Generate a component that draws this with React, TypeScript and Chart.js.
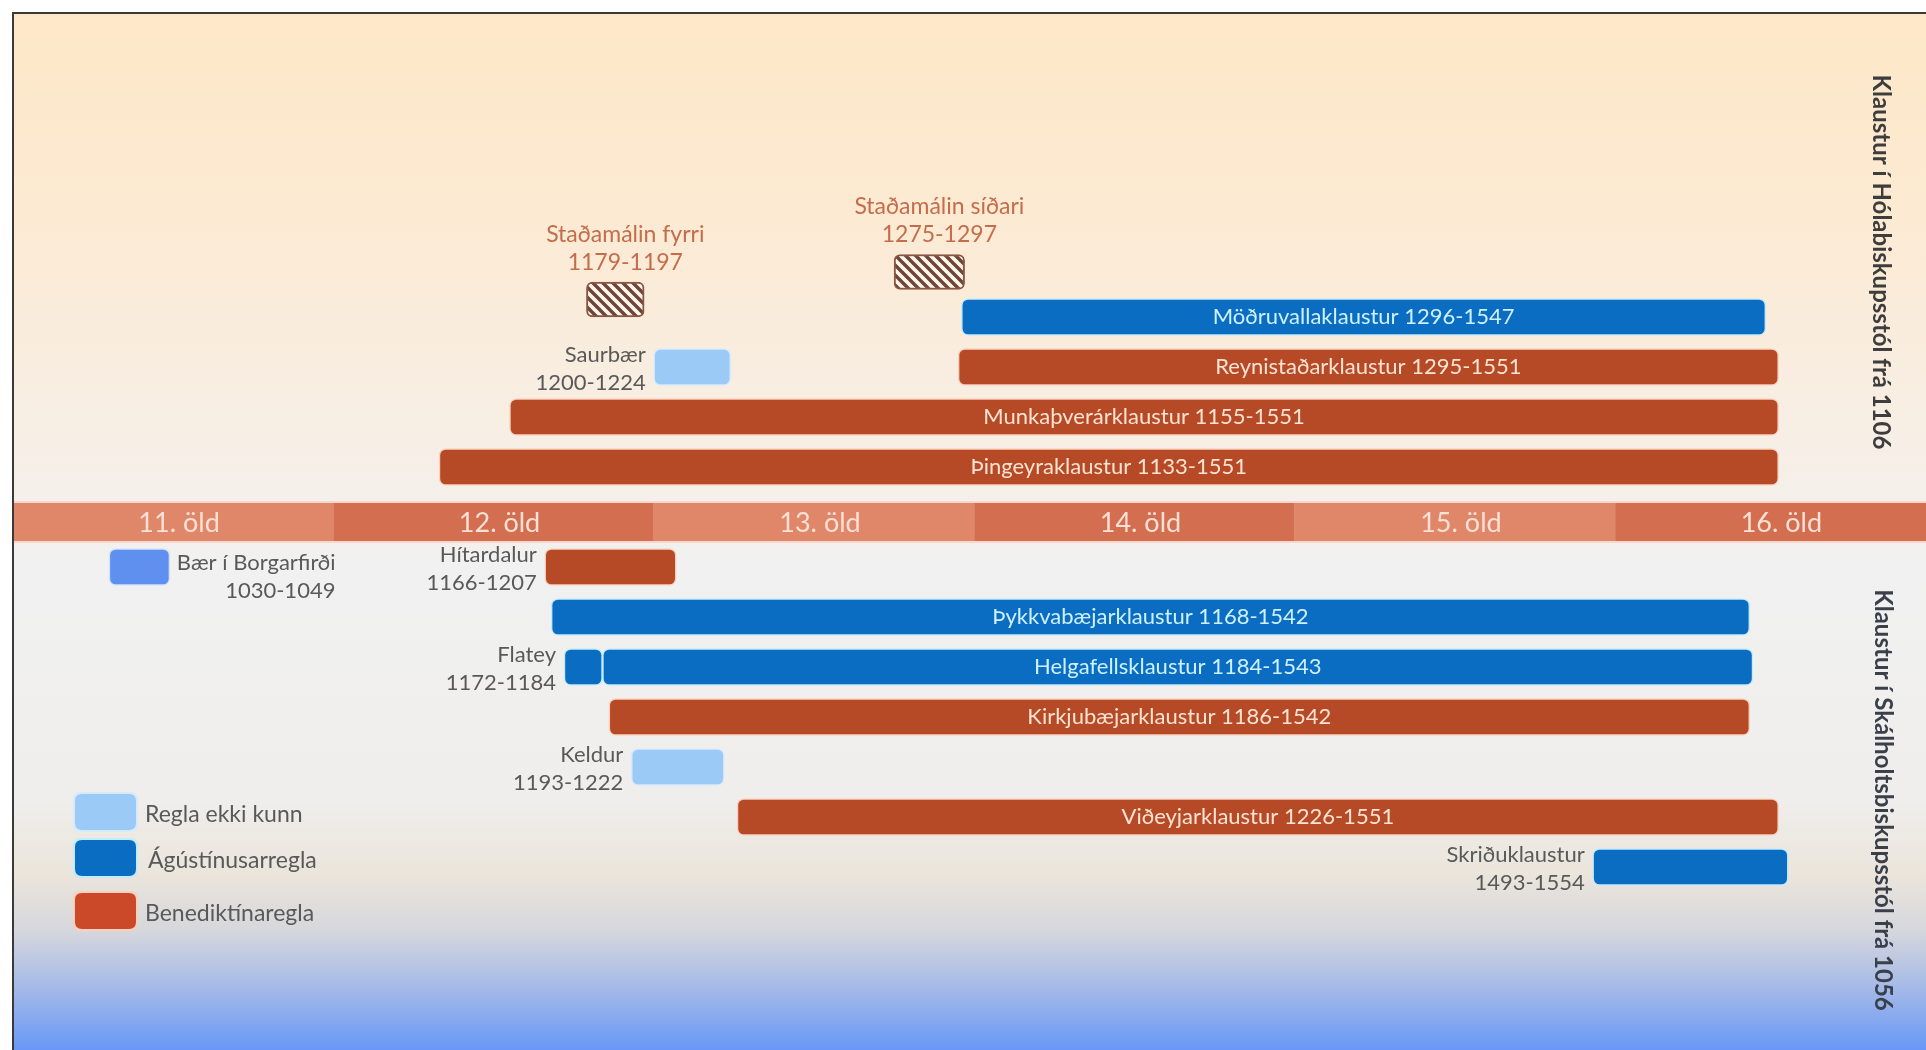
import React, { useEffect, useRef } from "react";
import { Chart, registerables } from "chart.js";

Chart.register(...registerables);

// ---------- data ----------
const centuries = ["11. öld", "12. öld", "13. öld", "14. öld", "15. öld", "16. öld"];
const centuryStarts = [1000, 1100, 1200, 1300, 1400, 1500];

const monasteries = [
  "Þingeyraklaustur",
  "Munkaþverárklaustur",
  "Reynistaðarklaustur",
  "Möðruvallaklaustur",
  "Saurbær",
  "Bær í Borgarfirði",
  "Hítardalur",
  "Þykkvabæjarklaustur",
  "Flatey",
  "Helgafellsklaustur",
  "Kirkjubæjarklaustur",
  "Keldur",
  "Viðeyjarklaustur",
  "Skriðuklaustur",
];
const startYears = [1133, 1155, 1295, 1296, 1200, 1030, 1166, 1168, 1172, 1184, 1186, 1193, 1226, 1493];
const endYears = [1551, 1551, 1551, 1547, 1224, 1049, 1207, 1542, 1184, 1543, 1542, 1222, 1551, 1554];
// row: positive = Hólar diocese (above the century band), negative = Skálholt diocese (below)
const rows = [1, 2, 3, 4, 3, -1, -1, -2, -3, -3, -4, -5, -6, -7];
// U = rule unknown, A = Augustinian, B = Benedictine, X = early (Bær)
const orders = ["B", "B", "B", "A", "U", "X", "B", "A", "A", "A", "B", "U", "B", "A"];

const conflicts = ["Staðamálin fyrri", "Staðamálin síðari"];
const conflictStarts = [1179, 1275];
const conflictEnds = [1197, 1297];
const conflictRows = [4.35, 4.9];

const legendOrders = ["U", "A", "B"];
const legendLabels = ["Regla ekki kunn", "Ágústínusarregla", "Benediktínaregla"];

const sideLabels = ["Klaustur í Hólabiskupsstól frá 1106", "Klaustur í Skálholtsbiskupsstól frá 1056"];

// ---------- styles ----------
const W = 1926;
const H = 1050;
const FONT = "Lato, 'Open Sans', sans-serif";
const ORDER_COLORS: Record<string, string> = { U: "#9ccaf7", A: "#0b6dc2", B: "#b64a27", X: "#5f8fef" };
const ORDER_GLOW: Record<string, string> = { U: "#d6eafc", A: "#c2ebfb", B: "#f8d0bd", X: "#d3e1fb" };
const ORDER_TEXT: Record<string, string> = { U: "#ffffff", A: "#cdf1ff", B: "#fde3d2", X: "#ffffff" };
const LABEL_GRAY = "#595959";
const CONFLICT_TEXT = "#c56c4a";

function makeHatch(): CanvasPattern | string {
  const s = 10;
  const c = document.createElement("canvas");
  c.width = s;
  c.height = s;
  const g = c.getContext("2d");
  if (!g) return "#fff";
  g.fillStyle = "#fff6ef";
  g.fillRect(0, 0, s, s);
  g.strokeStyle = "#6f4535";
  g.lineWidth = 3.4;
  g.beginPath();
  g.moveTo(-2, -2);
  g.lineTo(s + 2, s + 2);
  g.moveTo(-2, s - 2);
  g.lineTo(2, s + 2);
  g.moveTo(s - 2, -2);
  g.lineTo(s + 2, 2);
  g.stroke();
  const p = g.createPattern(c, "repeat");
  return p || "#fff";
}

function roundRect(ctx: CanvasRenderingContext2D, x: number, y: number, w: number, h: number, r: number) {
  ctx.beginPath();
  ctx.moveTo(x + r, y);
  ctx.lineTo(x + w - r, y);
  ctx.quadraticCurveTo(x + w, y, x + w, y + r);
  ctx.lineTo(x + w, y + h - r);
  ctx.quadraticCurveTo(x + w, y + h, x + w - r, y + h);
  ctx.lineTo(x + r, y + h);
  ctx.quadraticCurveTo(x, y + h, x, y + h - r);
  ctx.lineTo(x, y + r);
  ctx.quadraticCurveTo(x, y, x + r, y);
  ctx.closePath();
}

const timelinePlugin = {
  id: "timeline",
  beforeDraw(chart: any) {
    const ctx: CanvasRenderingContext2D = chart.ctx;
    ctx.save();
    ctx.fillStyle = "#ffffff";
    ctx.fillRect(0, 0, W, H);
    const g = ctx.createLinearGradient(0, 12, 0, H);
    g.addColorStop(0, "#fde7c7");
    g.addColorStop(0.2, "#fcead3");
    g.addColorStop(0.44, "#f6efe8");
    g.addColorStop(0.53, "#f1f1f1");
    g.addColorStop(0.76, "#efeeec");
    g.addColorStop(0.83, "#ebe5db");
    g.addColorStop(0.885, "#d6d7dd");
    g.addColorStop(0.93, "#aebfe5");
    g.addColorStop(1, "#6998f6");
    ctx.fillStyle = g;
    ctx.fillRect(12, 12, W - 12, H - 12);
    ctx.strokeStyle = "#3a3a3a";
    ctx.lineWidth = 2;
    ctx.beginPath();
    ctx.moveTo(13, H);
    ctx.lineTo(13, 13);
    ctx.lineTo(W, 13);
    ctx.stroke();
    ctx.restore();
  },
  beforeDatasetsDraw(chart: any) {
    const ctx: CanvasRenderingContext2D = chart.ctx;
    const xs = chart.scales.x;
    const ys = chart.scales.y;
    const cy = ys.getPixelForValue(-0.1);
    const half = 19;
    ctx.save();
    ctx.fillStyle = "#f9d7ca";
    ctx.fillRect(14, cy - half - 2, W, half * 2 + 4);
    centuryStarts.forEach((c, i) => {
      const x1 = Math.max(14, xs.getPixelForValue(c));
      const x2 = xs.getPixelForValue(c + 100);
      ctx.fillStyle = i % 2 === 0 ? "#e0876a" : "#d36f50";
      ctx.fillRect(x1, cy - half, x2 - x1, half * 2);
    });
    ctx.fillStyle = "#fbe1d5";
    ctx.font = `27px ${FONT}`;
    ctx.textAlign = "center";
    ctx.textBaseline = "middle";
    centuryStarts.forEach((c, i) => {
      const x = (xs.getPixelForValue(c) + xs.getPixelForValue(c + 100)) / 2;
      ctx.fillText(centuries[i], x + 6, cy + 1);
    });
    ctx.restore();
  },
  afterDatasetsDraw(chart: any) {
    const ctx: CanvasRenderingContext2D = chart.ctx;
    const xs = chart.scales.x;
    const ys = chart.scales.y;
    ctx.save();
    ctx.textBaseline = "middle";
    // monastery labels
    monasteries.forEach((name, i) => {
      const x1 = xs.getPixelForValue(startYears[i]);
      const x2 = xs.getPixelForValue(endYears[i]);
      const y = ys.getPixelForValue(rows[i]);
      const years = `${startYears[i]}-${endYears[i]}`;
      if (x2 - x1 > 300) {
        ctx.font = `22px ${FONT}`;
        ctx.fillStyle = ORDER_TEXT[orders[i]];
        ctx.textAlign = "center";
        ctx.fillText(`${name} ${years}`, (x1 + x2) / 2, y);
      } else {
        ctx.font = `22px ${FONT}`;
        ctx.fillStyle = LABEL_GRAY;
        if (x1 > 200) {
          ctx.textAlign = "right";
          ctx.fillText(name, x1 - 8, y - 12);
          ctx.fillText(years, x1 - 8, y + 16);
        } else {
          const w1 = ctx.measureText(name).width;
          ctx.textAlign = "left";
          ctx.fillText(name, x2 + 7, y - 4);
          ctx.textAlign = "right";
          ctx.fillText(years, x2 + 7 + w1, y + 24);
        }
      }
    });
    // conflict labels
    conflicts.forEach((name, i) => {
      const x = (xs.getPixelForValue(conflictStarts[i]) + xs.getPixelForValue(conflictEnds[i])) / 2;
      const top = ys.getPixelForValue(conflictRows[i]) - 17;
      ctx.font = `23px ${FONT}`;
      ctx.fillStyle = CONFLICT_TEXT;
      ctx.textAlign = "center";
      ctx.fillText(name, x + 10, top - 48);
      ctx.fillText(`${conflictStarts[i]}-${conflictEnds[i]}`, x + 10, top - 20);
    });
    // legend
    const legendY = [812, 858, 911];
    legendOrders.forEach((o, i) => {
      const y = legendY[i];
      ctx.fillStyle = ORDER_GLOW[o];
      roundRect(ctx, 73, y - 20, 65, 40, 8);
      ctx.fill();
      ctx.fillStyle = o === "B" ? "#cb4828" : ORDER_COLORS[o];
      roundRect(ctx, 75, y - 18, 61, 36, 7);
      ctx.fill();
      ctx.font = `23px ${FONT}`;
      ctx.fillStyle = LABEL_GRAY;
      ctx.textAlign = "left";
      ctx.fillText(legendLabels[i], i === 1 ? 148 : 145, y + 3);
    });
    // side labels
    const sidePos = [
      [1881, 262],
      [1883, 800],
    ];
    sideLabels.forEach((t, i) => {
      ctx.save();
      ctx.translate(sidePos[i][0], sidePos[i][1]);
      ctx.rotate(Math.PI / 2);
      ctx.font = `bold 24px ${FONT}`;
      ctx.fillStyle = i === 0 ? "#3d3d3d" : "#3a3f4a";
      ctx.textAlign = "center";
      ctx.fillText(t, 0, 0);
      ctx.restore();
    });
    ctx.restore();
  },
};

export default function App() {
  const ref = useRef<HTMLCanvasElement | null>(null);
  useEffect(() => {
    if (!ref.current) return;
    document.body.style.margin = "0";
    const hatch = makeHatch();
    const chart = new Chart(ref.current, {
      type: "bar",
      data: {
        datasets: [
          {
            label: "Klaustur",
            data: monasteries.map((_, i) => ({ x: [startYears[i], endYears[i]], y: rows[i] })) as any,
            backgroundColor: orders.map((o) => ORDER_COLORS[o]),
            borderColor: orders.map((o) => ORDER_GLOW[o]),
            borderWidth: 1.5,
            borderRadius: 7,
            borderSkipped: false,
            barThickness: 37,
            grouped: false,
          } as any,
          {
            label: "Staðamál",
            data: conflicts.map((_, i) => ({ x: [conflictStarts[i], conflictEnds[i]], y: conflictRows[i] })) as any,
            backgroundColor: hatch as any,
            borderColor: "#8a5644",
            borderWidth: 2,
            borderRadius: 6,
            borderSkipped: false,
            barThickness: 35,
            grouped: false,
          } as any,
        ],
      },
      options: {
        indexAxis: "y",
        animation: false,
        responsive: false,
        maintainAspectRatio: false,
        layout: { padding: 0 },
        events: [],
        scales: {
          x: { type: "linear", min: 996, max: 1597, display: false, offset: false },
          y: { type: "linear", min: -10.66, max: 10.34, display: false, offset: false },
        },
        plugins: {
          legend: { display: false },
          tooltip: { enabled: false },
        },
      },
      plugins: [timelinePlugin],
    });
    return () => chart.destroy();
  }, []);
  return (
    <div style={{ position: "fixed", left: 0, top: 0, width: W, height: H }}>
      <canvas ref={ref} width={W} height={H} style={{ width: W, height: H, display: "block" }} />
    </div>
  );
}
